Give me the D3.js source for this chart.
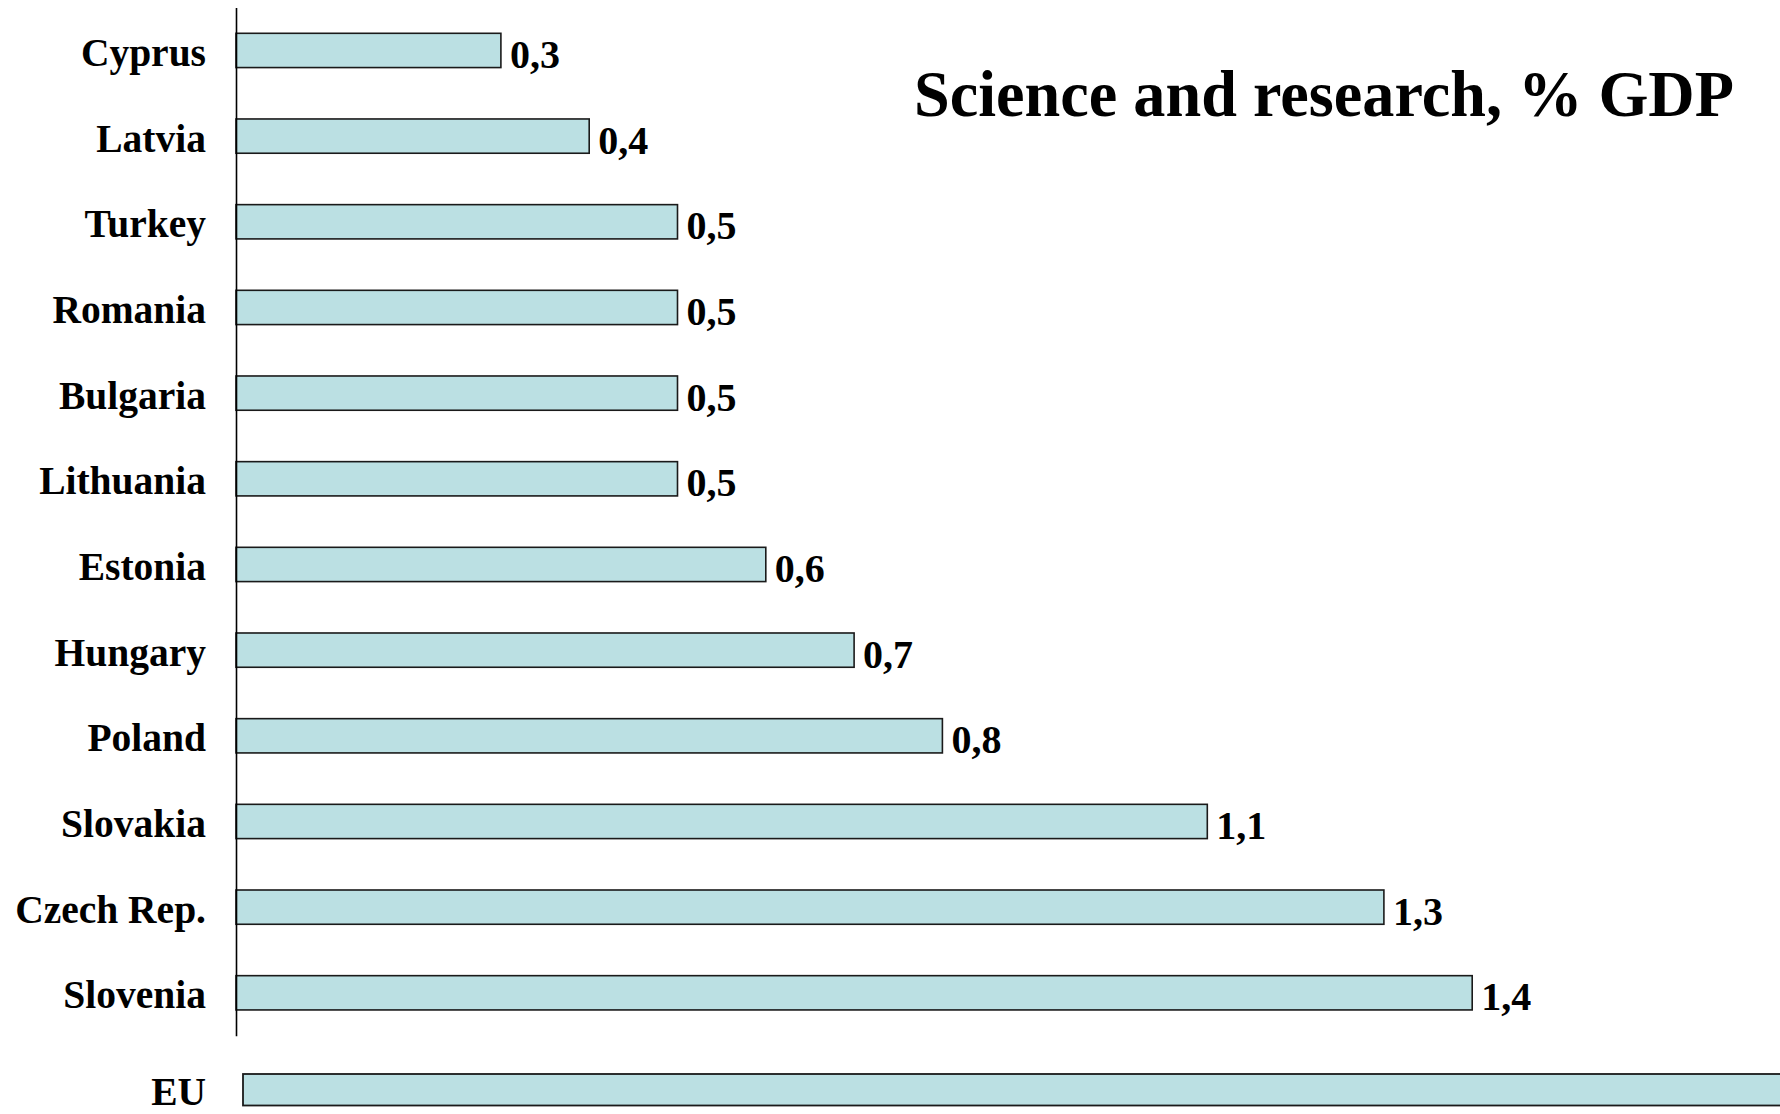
<!DOCTYPE html>
<html>
<head>
<meta charset="utf-8">
<script src="https://cdn.jsdelivr.net/npm/d3@7"></script>
<style>
  html, body { margin: 0; padding: 0; background: #ffffff; }
  svg { display: block; }
  text { font-family: "Liberation Serif", "Times New Roman", Times, serif; font-weight: bold; fill: #000; }
</style>
</head>
<body>
<svg id="chart" width="1780" height="1114"></svg>
<script>
// ---- data ----
const countries = ["Cyprus", "Latvia", "Turkey", "Romania", "Bulgaria", "Lithuania",
                   "Estonia", "Hungary", "Poland", "Slovakia", "Czech Rep.", "Slovenia"];
const values = [0.3, 0.4, 0.5, 0.5, 0.5, 0.5, 0.6, 0.7, 0.8, 1.1, 1.3, 1.4];
const euLabel = "EU";
const euValue = 1.9;
const title = "Science and research, % GDP";

// ---- layout ----
const svg = d3.select("#chart");
const axisX = 236;
const unit = 883; // pixels per 1 % GDP

const x = d3.scaleLinear().domain([0, 1]).range([axisX, axisX + unit]);
const y = d3.scaleBand()
  .domain(countries)
  .range([7.6, 7.6 + 12 * 85.67])
  .paddingInner(0.6)
  .paddingOuter(0.3);

const fmt = d3.formatLocale({ decimal: ",", thousands: " ", grouping: [3], currency: ["", ""] }).format(".1f");

const fill = "#BBE0E3";
const stroke = "#1a1a1a";

// bars
svg.append("g").selectAll("rect")
  .data(countries)
  .join("rect")
  .attr("x", x(0))
  .attr("y", d => y(d))
  .attr("width", (d, i) => x(values[i]) - x(0))
  .attr("height", y.bandwidth())
  .attr("fill", fill)
  .attr("stroke", stroke)
  .attr("stroke-width", 1.6);

// axis line (category axis, no ticks)
const yAxis = d3.axisLeft(y).tickSize(0).tickFormat("");
const gAxis = svg.append("g").attr("transform", `translate(${axisX},0)`).call(yAxis);
gAxis.select(".domain").attr("stroke", "#000").attr("stroke-width", 1.6);

// category labels
svg.append("g").selectAll("text")
  .data(countries)
  .join("text")
  .attr("x", 206)
  .attr("y", d => y(d) + y.bandwidth() / 2 + 15.5)
  .attr("text-anchor", "end")
  .attr("font-size", 39.5)
  .text(d => d);

// value labels
svg.append("g").selectAll("text")
  .data(countries)
  .join("text")
  .attr("x", (d, i) => x(values[i]) + 9)
  .attr("y", d => y(d) + y.bandwidth() / 2 + 17.5)
  .attr("font-size", 40)
  .text((d, i) => fmt(values[i]));

// EU bar (separate, below the axis)
const euTop = 1074, euH = 31.5, euX = 243;
svg.append("rect")
  .attr("x", euX)
  .attr("y", euTop)
  .attr("width", x(euValue) - x(0))
  .attr("height", euH)
  .attr("fill", fill)
  .attr("stroke", stroke)
  .attr("stroke-width", 1.8);

svg.append("text")
  .attr("x", 206)
  .attr("y", euTop + euH / 2 + 15)
  .attr("text-anchor", "end")
  .attr("font-size", 39.5)
  .text(euLabel);

// title
svg.append("text")
  .attr("x", 914)
  .attr("y", 115.5)
  .attr("font-size", 66)
  .attr("textLength", 820)
  .attr("lengthAdjust", "spacingAndGlyphs")
  .text(title);
</script>
</body>
</html>
